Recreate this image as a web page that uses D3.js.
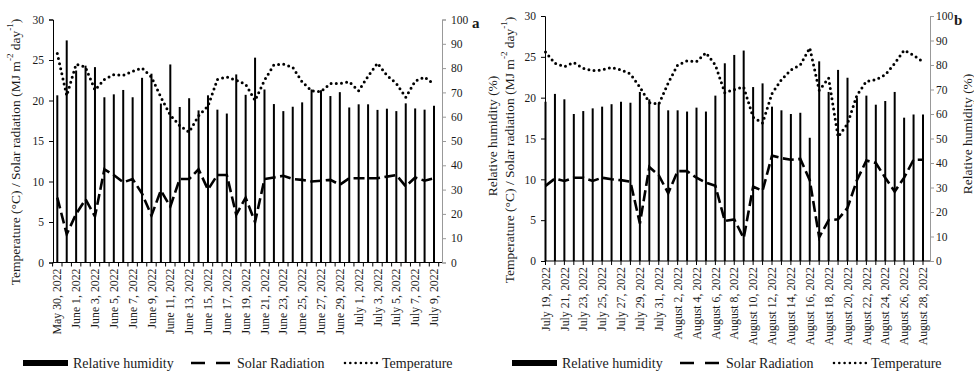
<!DOCTYPE html>
<html><head><meta charset="utf-8">
<script src="https://cdn.jsdelivr.net/npm/d3@7"></script>
<style>
body{margin:0;background:#fff}
svg{display:block}
svg text{font-family:'Liberation Serif','Times New Roman',Times,'DejaVu Serif',serif !important;fill:#1a1a1a}
</style>
</head><body>
<svg id="c" width="974" height="374" font-family="Liberation Serif, serif"></svg>
<script>
// ---------- DATA ----------
const catsA = ["May 30, 2022","May 31, 2022","June 1, 2022","June 2, 2022","June 3, 2022","June 4, 2022","June 5, 2022","June 6, 2022","June 7, 2022","June 8, 2022","June 9, 2022","June 10, 2022","June 11, 2022","June 12, 2022","June 13, 2022","June 14, 2022","June 15, 2022","June 16, 2022","June 17, 2022","June 18, 2022","June 19, 2022","June 20, 2022","June 21, 2022","June 22, 2022","June 23, 2022","June 24, 2022","June 25, 2022","June 26, 2022","June 27, 2022","June 28, 2022","June 29, 2022","June 30, 2022","July 1, 2022","July 2, 2022","July 3, 2022","July 4, 2022","July 5, 2022","July 6, 2022","July 7, 2022","July 8, 2022","July 9, 2022"];
const rhA = [68.8,91.4,79,81,80.4,68,69.2,71,68,76,77.7,65.4,81.5,64,67.6,62.6,68.8,62.9,61.3,77.4,69,84.3,71.2,65.2,62.3,64.1,65.9,71.2,70.9,68.5,70.1,63.8,65.1,65.1,62.8,63.3,62.3,65.5,63.4,62.9,64.5];
const solarA = [8.0,3.5,6.0,7.8,5.7,11.5,10.8,9.9,10.3,8.5,5.8,8.9,6.9,10.3,10.3,11.5,9.0,10.8,10.8,5.9,8.0,5.0,10.3,10.5,10.7,10.3,10.2,10.0,10.1,10.2,9.6,10.4,10.4,10.4,10.4,10.6,10.8,9.4,10.5,10.1,10.4];
const tempA = [25.8,20.6,24.5,24.1,21.3,22.6,23.2,23.1,23.6,24.0,22.9,20.4,18.2,16.9,16.1,18.1,19.3,22.6,22.9,22.5,22.0,20.0,22.5,24.4,24.5,24.1,22.3,21.2,21.1,22.1,22.1,22.3,21.2,23.0,24.6,23.1,22.1,20.4,22.4,22.9,22.0];

const catsB = ["July 19, 2022","July 20, 2022","July 21, 2022","July 22, 2022","July 23, 2022","July 24, 2022","July 25, 2022","July 26, 2022","July 27, 2022","July 28, 2022","July 29, 2022","July 30, 2022","July 31, 2022","August 1, 2022","August 2, 2022","August 3, 2022","August 4, 2022","August 5, 2022","August 6, 2022","August 7, 2022","August 8, 2022","August 9, 2022","August 10, 2022","August 11, 2022","August 12, 2022","August 13, 2022","August 14, 2022","August 15, 2022","August 16, 2022","August 17, 2022","August 18, 2022","August 19, 2022","August 20, 2022","August 21, 2022","August 22, 2022","August 23, 2022","August 24, 2022","August 25, 2022","August 26, 2022","August 27, 2022","August 28, 2022"];
const rhB = [65,68.2,66.0,60.0,61.2,62.3,63.0,64.0,65.0,64.6,69.0,66.0,64.4,61.5,61.5,61.0,62.6,61.0,67.5,80.7,84.1,85.9,71.0,72.5,63.0,61.5,60.0,60.5,50.3,81.5,69.0,78.0,74.8,66.5,67.5,63.8,65.3,69.0,58.5,59.8,59.8];
const solarB = [9.2,10.1,9.8,10.2,10.2,9.8,10.2,10.0,9.9,9.7,4.6,11.5,10.5,8.3,11.0,11.0,10.2,9.6,9.2,4.9,5.1,2.8,9.1,8.6,12.9,12.6,12.4,12.5,9.9,2.9,5.0,5.1,6.5,9.9,12.3,12.0,10.2,8.5,10.2,12.4,12.4];
const tempB = [25.6,24.2,23.8,24.3,23.6,23.3,23.4,23.7,23.4,22.9,21.3,19.4,19.2,21.8,24.0,24.5,24.4,25.5,24.0,20.6,21.0,21.3,17.6,16.9,20.5,22.2,23.4,24.0,26.1,20.9,22.4,15.2,16.8,20.3,22.0,22.2,22.8,24.2,25.8,25.2,24.4];

const leftTicks = [0,5,10,15,20,25,30];
const rightTicks = [0,10,20,30,40,50,60,70,80,90,100];
const legendLabels = ["Relative humidity","Solar Radiation","Temperature"];
const panelLetters = ["a","b"];

// ---------- DRAW ----------
const svg = d3.select("#c");
const FONT = "'Liberation Serif', 'Times New Roman', serif";

function panel(cfg){
  const g = svg.append("g");
  const x = d3.scalePoint().domain(cfg.cats).range(cfg.barRange);
  const step = x.step();
  const yL = d3.scaleLinear().domain([0,30]).range(cfg.yRange);
  const yR = d3.scaleLinear().domain([0,100]).range(cfg.yRange);
  const y0 = cfg.yRange[0];

  // bars
  g.selectAll("rect.bar").data(cfg.cats).join("rect")
    .attr("class","bar")
    .attr("x", d => x(d) - 1)
    .attr("width", 2)
    .attr("y", (d,i) => yR(cfg.rh[i]))
    .attr("height", (d,i) => y0 - yR(cfg.rh[i]))
    .attr("fill","#000");

  // lines
  const line = d3.line().x(d => x(d.c)).y(d => yL(d.v));
  const solar = cfg.cats.map((c,i) => ({c, v: cfg.solar[i]}));
  const temp = cfg.cats.map((c,i) => ({c, v: cfg.temp[i]}));
  g.append("path").attr("d", line(solar)).attr("fill","none")
    .attr("stroke","#000").attr("stroke-width",2.6).attr("stroke-dasharray","11 4.5");
  g.append("path").attr("d", line(temp)).attr("fill","none")
    .attr("stroke","#000").attr("stroke-width",3).attr("stroke-linecap","round")
    .attr("stroke-dasharray","0 5.2");

  // left axis
  const axL = d3.axisLeft(yL).tickValues(leftTicks).tickSize(4).tickPadding(5);
  const gl = g.append("g").attr("transform",`translate(${cfg.axisX[0]},0)`).call(axL);
  gl.attr("font-family", FONT);
  gl.select(".domain").attr("stroke","#000");
  gl.selectAll(".tick line").attr("stroke","#000");
  gl.selectAll("text").style("font-size","11.5px").attr("fill","#1a1a1a");

  // right axis
  const axR = d3.axisRight(yR).tickValues(rightTicks).tickSize(4).tickPadding(cfg.rPad);
  const gr = g.append("g").attr("transform",`translate(${cfg.axisX[1]},0)`).call(axR);
  gr.attr("font-family", FONT);
  gr.select(".domain").attr("stroke","#999");
  gr.selectAll(".tick line").attr("stroke","#999");
  gr.selectAll("text").style("font-size","11.5px").attr("fill","#1a1a1a");

  // bottom axis
  g.append("line").attr("x1",cfg.axisX[0]).attr("x2",cfg.axisX[1])
    .attr("y1",y0).attr("y2",y0).attr("stroke","#000").attr("stroke-width",1.2);
  const tickPos = cfg.between
    ? d3.range(cfg.cats.length+1).map(k => x(cfg.cats[0]) - step/2 + k*step)
    : cfg.cats.map(c => x(c));
  g.selectAll("line.xt").data(tickPos).join("line").attr("class","xt")
    .attr("x1",d=>d).attr("x2",d=>d).attr("y1",y0).attr("y2",y0+4)
    .attr("stroke","#000").attr("stroke-width",1);

  // x labels (every second category)
  const labs = cfg.cats.filter((c,i) => i % 2 === 0);
  g.selectAll("text.xl").data(labs).join("text").attr("class","xl")
    .attr("transform", d => `translate(${x(d)},${y0+6}) rotate(-90)`)
    .attr("text-anchor","end").attr("dy","0.35em")
    .style("font-size","11.8px").text(d => d);

  // left title
  const lt = g.append("text")
    .attr("transform",`translate(${cfg.leftTitleX},${cfg.leftTitleY}) rotate(-90)`)
    .attr("text-anchor","middle").attr("dominant-baseline","central")
    .style("font-size","13.5px");
  lt.append("tspan").text("Temperature (°C) / Solar  radiation (MJ m");
  lt.append("tspan").attr("baseline-shift","super").style("font-size","9px").text("-2");
  lt.append("tspan").text(" day");
  lt.append("tspan").attr("baseline-shift","super").style("font-size","9px").text("-1");
  lt.append("tspan").text(")");

  // right title
  g.append("text")
    .attr("transform",`translate(${cfg.rightTitleX},${cfg.rightTitleY}) rotate(-90)`)
    .attr("text-anchor","middle").attr("dominant-baseline","central")
    .style("font-size","13.5px").text("Relative humidity (%)");

  // letter
  g.append("text").attr("x",cfg.letter[0]).attr("y",cfg.letter[1])
    .style("font-size","15px").style("font-weight","bold").text(cfg.letterText);

  // legend
  const lx = cfg.legendX, ly = 363;
  const lg = g.append("g");
  lg.append("rect").attr("x",lx).attr("y",ly-3).attr("width",45).attr("height",6).attr("fill","#000");
  lg.append("text").attr("x",lx+50).attr("y",ly).attr("dominant-baseline","central")
    .style("font-size","14px").text(legendLabels[0]);
  lg.append("line").attr("x1",lx+168).attr("x2",lx+207).attr("y1",ly).attr("y2",ly)
    .attr("stroke","#000").attr("stroke-width",2.6).attr("stroke-dasharray","14 11");
  lg.append("text").attr("x",lx+214).attr("y",ly).attr("dominant-baseline","central")
    .style("font-size","14px").text(legendLabels[1]);
  lg.append("line").attr("x1",lx+322).attr("x2",lx+354).attr("y1",ly).attr("y2",ly)
    .attr("stroke","#000").attr("stroke-width",2.6).attr("stroke-linecap","round").attr("stroke-dasharray","0 5.3");
  lg.append("text").attr("x",lx+359).attr("y",ly).attr("dominant-baseline","central")
    .style("font-size","14px").text(legendLabels[2]);
}

panel({cats:catsA, rh:rhA, solar:solarA, temp:tempA,
  barRange:[57.3,434], axisX:[53,442], yRange:[262.5,19.5], between:true, rPad:5,
  leftTitleX:15, leftTitleY:152, rightTitleX:492, rightTitleY:136,
  letter:[472,28], letterText:panelLetters[0], legendX:23});
panel({cats:catsB, rh:rhB, solar:solarB, temp:tempB,
  barRange:[545.5,923], axisX:[545,930], yRange:[261,16], between:false, rPad:2,
  leftTitleX:509, leftTitleY:150, rightTitleX:967, rightTitleY:134,
  letter:[954,25], letterText:panelLetters[1], legendX:512});
</script>
</body></html>
